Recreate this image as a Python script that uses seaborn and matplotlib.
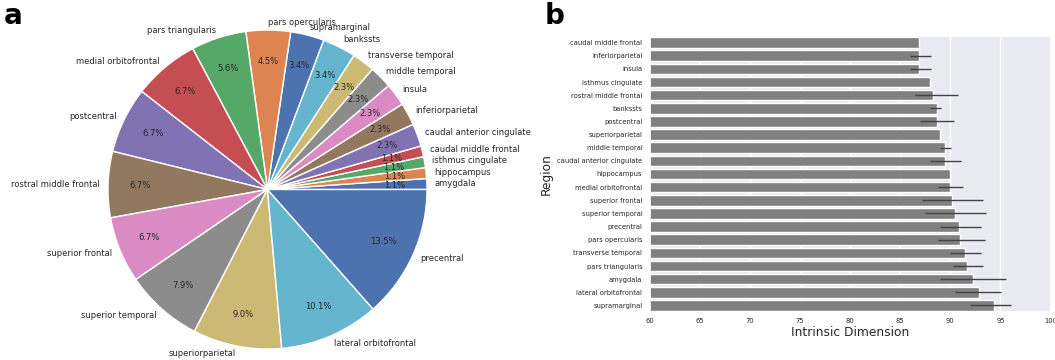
import numpy as np
import pandas as pd
import matplotlib
matplotlib.use("Agg")
import matplotlib.pyplot as plt
import seaborn as sns

# Panel a: share of each region (percent)
pie_regions = [
    "amygdala", "hippocampus", "isthmus cingulate", "caudal middle frontal",
    "caudal anterior cingulate", "inferiorparietal", "insula", "middle temporal",
    "transverse temporal", "bankssts", "supramarginal", "pars opercularis",
    "pars triangularis", "medial orbitofrontal", "postcentral",
    "rostral middle frontal", "superior frontal", "superior temporal",
    "superiorparietal", "lateral orbitofrontal", "precentral",
]
pie_share_pct = [1.1, 1.1, 1.1, 1.1, 2.3, 2.3, 2.3, 2.3, 2.3, 3.4, 3.4, 4.5,
                 5.6, 6.7, 6.7, 6.7, 6.7, 7.9, 9.0, 10.1, 13.5]

# Panel b: mean intrinsic dimension per region and its confidence interval
bar_regions = [
    "caudal middle frontal", "inferiorparietal", "insula", "isthmus cingulate",
    "rostral middle frontal", "bankssts", "postcentral", "superiorparietal",
    "middle temporal", "caudal anterior cingulate", "hippocampus",
    "medial orbitofrontal", "superior frontal", "superior temporal",
    "precentral", "pars opercularis", "transverse temporal",
    "pars triangularis", "amygdala", "lateral orbitofrontal", "supramarginal",
]
bar_means = [86.9, 86.9, 86.9, 88.0, 88.3, 88.7, 88.7, 89.0, 89.5, 89.5, 90.0,
             90.0, 90.2, 90.5, 90.9, 91.0, 91.5, 91.7, 92.3, 92.9, 94.4]
ci_low = [np.nan, 86.0, 86.0, np.nan, 86.5, 88.0, 87.0, np.nan, 89.0, 88.0, np.nan,
          88.8, 87.2, 87.5, 89.0, 88.8, 90.0, 90.3, 89.0, 90.5, 92.0]
ci_high = [np.nan, 88.1, 88.1, np.nan, 90.8, 89.1, 90.4, np.nan, 90.1, 91.1, np.nan,
           91.3, 93.3, 93.6, 93.1, 93.5, 93.1, 93.3, 95.6, 95.1, 96.1]

sns.set_theme(style="darkgrid")
plt.rcParams["font.family"] = ["DejaVu Sans"]

W, H = 1055, 360
fig = plt.figure(figsize=(W / 100, H / 100), dpi=100)

# ---- pie chart ----
radius_px = 159.5
cx, cy = 267.5, H - 189.5
lim = 1.1
side = 2 * lim * radius_px
axa = fig.add_axes([(cx - side / 2) / W, (cy - side / 2) / H, side / W, side / H])
palette = sns.color_palette("deep", 10)
axa.pie(
    pie_share_pct, labels=pie_regions, colors=palette,
    autopct="%1.1f%%", pctdistance=0.8, labeldistance=1.05,
    startangle=0, counterclock=True,
    wedgeprops=dict(edgecolor="white", linewidth=1.0),
    textprops=dict(fontsize=6, color=".15"),
)
axa.set_xlim(-lim, lim)
axa.set_ylim(-lim, lim)
axa.set_aspect("equal")

# ---- bar chart ----
axb = fig.add_axes([650 / W, 48 / H, 400.5 / W, 276 / H])
df = pd.DataFrame({"Region": bar_regions, "Intrinsic Dimension": bar_means})
sns.barplot(data=df, x="Intrinsic Dimension", y="Region", order=bar_regions,
            color="gray", errorbar=None, width=0.8, ax=axb)

means = np.array(bar_means)
lo = np.array(ci_low)
hi = np.array(ci_high)
pos = np.arange(len(bar_regions))
has_ci = ~np.isnan(lo)
axb.errorbar(means[has_ci], pos[has_ci],
             xerr=[means[has_ci] - lo[has_ci], hi[has_ci] - means[has_ci]],
             fmt="none", ecolor=".26", elinewidth=1.0, capsize=0, zorder=3)

axb.set_xlim(60, 100)
axb.set_ylim(len(bar_regions) - 0.5, -0.5)
axb.set_xticks(np.arange(60, 101, 5))
axb.tick_params(axis="y", labelsize=4.9, pad=5.5, length=0)
axb.tick_params(axis="x", labelsize=4.9, pad=4.5, length=0)
axb.set_xlabel("Intrinsic Dimension", fontsize=8.8, labelpad=1)
axb.set_ylabel("Region", fontsize=8.8, labelpad=3)

# panel letters
fig.text(4 / W, 1 - 24 / H, "a", fontsize=20, fontweight="bold", color="black", va="baseline")
fig.text(545 / W, 1 - 24 / H, "b", fontsize=20, fontweight="bold", color="black", va="baseline")

fig.savefig("out.png", dpi=100)
